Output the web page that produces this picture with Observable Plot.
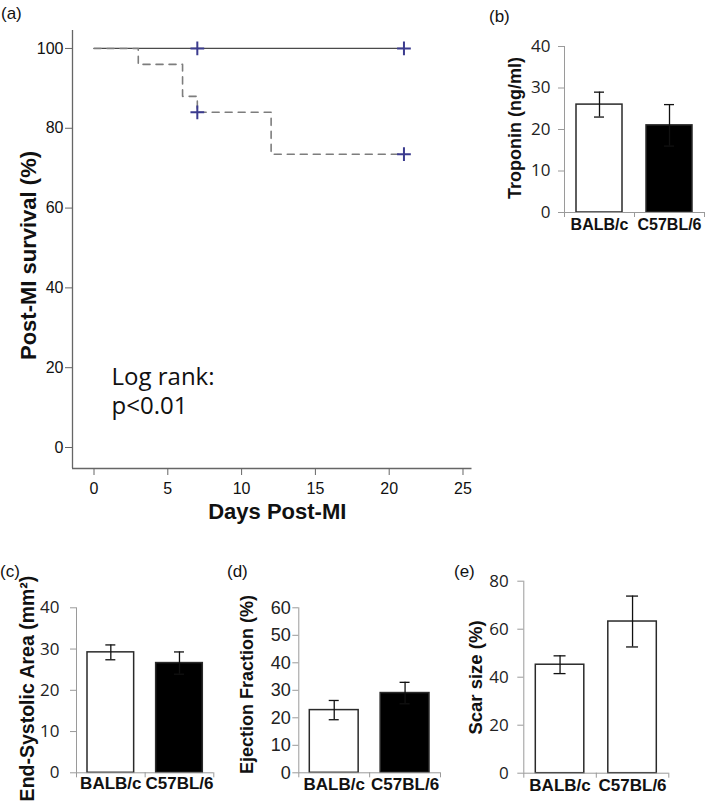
<!DOCTYPE html>
<html>
<head>
<meta charset="utf-8">
<script src="https://cdn.jsdelivr.net/npm/d3@7"></script>
<script src="https://cdn.jsdelivr.net/npm/@observablehq/plot@0.6"></script>
<style>
html, body { margin: 0; padding: 0; background: #fff; }
#root { position: relative; width: 709px; height: 807px; overflow: hidden; font-family: "Liberation Sans", Arial, sans-serif; }
.panel { position: absolute; }
.panel svg { overflow: visible; }
.plabel { position: absolute; font-size: 17px; line-height: 17px; color: #111; font-family: "Liberation Sans", Arial, sans-serif; }
</style>
</head>
<body>
<div id="root"></div>
<script>
// ---------- data ----------
// (a) Kaplan-Meier survival
const survivalTicksX = [0, 5, 10, 15, 20, 25];
const survivalTicksY = [0, 20, 40, 60, 80, 100];
const solidDays = [0, 21];
const solidSurvival = [100, 100];
const dashedDays = [0, 3, 6, 7, 12, 21];
const dashedSurvival = [100, 96, 88, 84, 73.5, 73.5];
const censorDays = [7, 21, 7, 21];
const censorSurvival = [100, 100, 84, 73.5];
const logRankText = ["Log rank:", "p<0.01"];

// bar panels
const strains = ["BALB/c", "C57BL/6"];
const troponinMean = [26, 21];
const troponinErr = [3, 5];
const troponinTicks = [0, 10, 20, 30, 40];
const esaMean = [29.2, 26.6];
const esaErr = [1.8, 2.7];
const esaTicks = [0, 10, 20, 30, 40];
const efMean = [22.8, 29.0];
const efErr = [3.5, 3.9];
const efTicks = [0, 10, 20, 30, 40, 50, 60];
const scarMean = [45.2, 63.2];
const scarErr = [3.7, 10.6];
const scarTicks = [0, 20, 40, 60, 80];

// ---------- helpers ----------
const root = document.getElementById("root");
function place(node, left, top) {
  const d = document.createElement("div");
  d.className = "panel";
  d.style.left = left + "px";
  d.style.top = top + "px";
  d.appendChild(node);
  root.appendChild(d);
}
function panelLabel(txt, left, top) {
  const d = document.createElement("div");
  d.className = "plabel";
  d.textContent = txt;
  d.style.left = left + "px";
  d.style.top = top + "px";
  root.appendChild(d);
}
const SANS = '"Liberation Sans", Arial, sans-serif';
const CAL = '"Open Sans", sans-serif';

// ---------- (a) survival ----------
(function () {
  const W = 480, H = 530;
  const mL = 72, mT = 30, mB = H - 468, mR = W - 471.5;
  const xDom = [-1.457, 25.61], yDom = [-5.26, 104.5];
  const solid = solidDays.map((d, i) => ({day: d, s: solidSurvival[i]}));
  const dashed = dashedDays.map((d, i) => ({day: d, s: dashedSurvival[i]}));
  const censor = censorDays.map((d, i) => ({day: d, s: censorSurvival[i]}));
  const axisColor = "#666";
  const svg = Plot.plot({
    width: W, height: H,
    marginLeft: mL, marginTop: mT, marginBottom: mB, marginRight: mR,
    style: {fontFamily: SANS, background: "transparent", maxWidth: "none", overflow: "visible"},
    x: {domain: xDom, label: null},
    y: {domain: yDom, label: null},
    marks: [
      Plot.ruleX([xDom[0]], {stroke: axisColor, strokeWidth: 1.3}),
      Plot.ruleY([yDom[0]], {stroke: axisColor, strokeWidth: 1.3}),
      Plot.axisY(survivalTicksY, {tickSize: 7, tickPadding: 2, fontSize: 16, stroke: axisColor, fill: "#111", label: null}),
      Plot.axisX(survivalTicksX, {tickSize: 7, tickPadding: 7, fontSize: 16, stroke: axisColor, fill: "#111", label: null}),
      Plot.line(solid, {x: "day", y: "s", stroke: "#4a4a4a", strokeWidth: 1.3}),
      Plot.line(dashed, {x: "day", y: "s", curve: "step-after", stroke: "#7d7d7d", strokeWidth: 1.6, strokeDasharray: "7,6"}),
      Plot.dot(censor, {x: "day", y: "s", symbol: "plus", r: 4.5, stroke: "#3b3b8e", strokeWidth: 2}),
      Plot.text([logRankText[0]], {text: d => d, frameAnchor: "bottom-left", textAnchor: "start", lineAnchor: "middle", dx: 39, dy: -90.7, fontSize: 24, fontFamily: CAL, fill: "#111"}),
      Plot.text([logRankText[1]], {text: d => d, frameAnchor: "bottom-left", textAnchor: "start", lineAnchor: "middle", dx: 39, dy: -61.7, fontSize: 24, fontFamily: CAL, fill: "#111"}),
      Plot.text(["Post-MI survival (%)"], {text: d => d, frameAnchor: "left", textAnchor: "middle", lineAnchor: "middle", rotate: -90, dx: -44, dy: 6, fontSize: 22, fontWeight: "bold", fill: "#111"}),
      Plot.text(["Days Post-MI"], {text: d => d, frameAnchor: "bottom", textAnchor: "middle", lineAnchor: "middle", dx: 5, dy: 43, fontSize: 22, fontWeight: "bold", fill: "#111"})
    ]
  });
  place(svg, 0, 0);
})();

// ---------- bar panels ----------
function barPanel(o) {
  const data = strains.map((s, i) => ({strain: s, value: o.values[i], lo: o.values[i] - o.errs[i], hi: o.values[i] + o.errs[i]}));
  const bw = (o.W - o.mL - o.mR) / 2;
  const capInset = (bw - o.capW) / 2;
  const axisColor = "#9a9a9a";
  const svg = Plot.plot({
    width: o.W, height: o.H,
    marginLeft: o.mL, marginTop: o.mT, marginBottom: o.mB, marginRight: o.mR,
    style: {fontFamily: SANS, background: "transparent", maxWidth: "none", overflow: "visible"},
    x: {type: "band", domain: strains, padding: 0, round: false, label: null},
    y: {domain: [0, o.yMax], label: null},
    marks: [
      Plot.barY(data, {x: "strain", y: "value", fill: d => o.fill(d.strain), stroke: "#2a2a2a", strokeWidth: 1.5, insetLeft: o.inset, insetRight: o.inset}),
      Plot.ruleX(data, {x: "strain", y1: "lo", y2: "hi", stroke: "#111", strokeWidth: 1.3}),
      Plot.tickY(data, {x: "strain", y: "hi", stroke: "#111", strokeWidth: 1.3, insetLeft: capInset, insetRight: capInset}),
      Plot.tickY(data, {x: "strain", y: "lo", stroke: "#111", strokeWidth: 1.3, insetLeft: capInset, insetRight: capInset}),
      Plot.ruleY([0], {stroke: axisColor, strokeWidth: 1}),
      Plot.ruleX([strains[0]], {y1: 0, y2: o.yMax, dx: -bw / 2, stroke: axisColor, strokeWidth: 1}),
      Plot.axisY(o.ticks, {tickSize: 6, tickPadding: o.tickPadding, fontSize: o.tickFontSize, fontFamily: o.tickFont, stroke: axisColor, fill: "#222", label: null}),
      Plot.axisX(strains, {tickSize: 0, tickPadding: o.catPadding, fontSize: o.catFontSize, fontWeight: "bold", fill: "#111", label: null}),
      Plot.axisX(strains, {tickSize: 5, tickFormat: () => "", dx: -bw / 2, stroke: axisColor, label: null}),
      Plot.axisX([strains[1]], {tickSize: 5, tickFormat: () => "", dx: bw / 2, stroke: axisColor, label: null}),
      Plot.text([o.yLabel], {text: d => d, frameAnchor: "left", textAnchor: "middle", lineAnchor: "middle", rotate: -90, dx: o.yLabelDx, dy: o.yLabelDy, fontSize: o.yLabelSize, fontWeight: "bold", fill: "#111"})
    ]
  });
  place(svg, o.left, o.top);
}
const whiteBlack = s => (s === strains[0] ? "white" : "black");
const allWhite = () => "white";

// (b) troponin
barPanel({left: 450, top: 0, W: 259, H: 250, mL: 114, mT: 46, mR: 5, mB: 38,
  values: troponinMean, errs: troponinErr, yMax: 40, ticks: troponinTicks, fill: whiteBlack,
  inset: 12, capW: 10, tickFont: CAL, tickFontSize: 17, tickPadding: 8,
  catFontSize: 16, catPadding: 6, yLabel: "Troponin (ng/ml)", yLabelSize: 18, yLabelDx: -49, yLabelDy: -1.5});

// (c) end-systolic area
barPanel({left: 0, top: 540, W: 230, H: 267, mL: 76, mT: 67.3, mR: 16.7, mB: 34.7,
  values: esaMean, errs: esaErr, yMax: 40, ticks: esaTicks, fill: whiteBlack,
  inset: 11, capW: 10, tickFont: CAL, tickFontSize: 17, tickPadding: 11,
  catFontSize: 17, catPadding: 4, yLabel: "End-Systolic Area (mm²)", yLabelSize: 19.5, yLabelDx: -48.5, yLabelDy: -1.8});

// (d) ejection fraction
barPanel({left: 230, top: 540, W: 225, H: 267, mL: 68.3, mT: 67.3, mR: 15, mB: 34.7,
  values: efMean, errs: efErr, yMax: 60, ticks: efTicks, fill: whiteBlack,
  inset: 11, capW: 10, tickFont: SANS, tickFontSize: 18, tickPadding: 2,
  catFontSize: 17, catPadding: 5, yLabel: "Ejection Fraction (%)", yLabelSize: 18, yLabelDx: -51.6, yLabelDy: -5.8});

// (e) scar size
barPanel({left: 455, top: 540, W: 254, H: 267, mL: 68.3, mT: 40.7, mR: 40.7, mB: 34.3,
  values: scarMean, errs: scarErr, yMax: 80, ticks: scarTicks, fill: allWhite,
  inset: 12, capW: 12, tickFont: CAL, tickFontSize: 17, tickPadding: 9,
  catFontSize: 17, catPadding: 6, yLabel: "Scar size (%)", yLabelSize: 18.5, yLabelDx: -47.3, yLabelDy: 0.3});

// panel letters
panelLabel("(a)", 1, 5);
panelLabel("(b)", 489, 8);
panelLabel("(c)", 0, 563);
panelLabel("(d)", 227, 563);
panelLabel("(e)", 454, 563);
</script>
</body>
</html>
